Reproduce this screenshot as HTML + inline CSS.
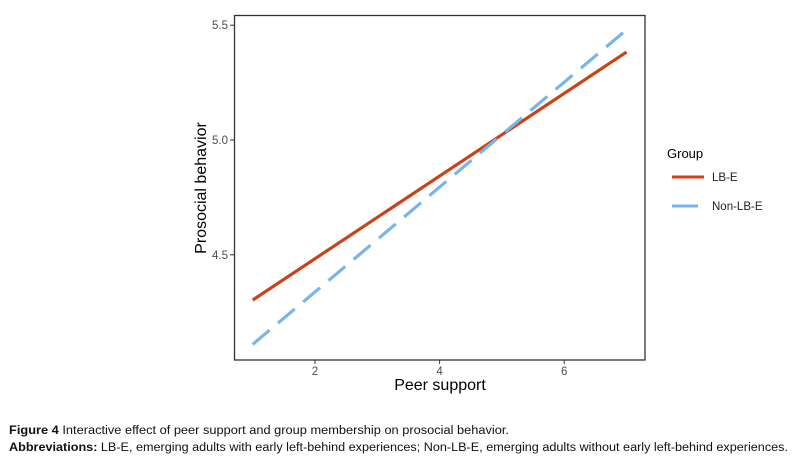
<!DOCTYPE html>
<html><head><meta charset="utf-8"><style>
html,body{margin:0;padding:0;background:#fff;}
svg{display:block;font-family:"Liberation Sans",sans-serif;}
</style></head><body>
<svg id="chart" width="798" height="465">
  <rect x="234.5" y="15.5" width="410.5" height="344.5" fill="none" stroke="#333" stroke-width="1.3"/>
  <g id="xticks"></g>
  <g id="yticks"></g>
  <g id="lines"></g>
  <text x="440" y="390" text-anchor="middle" font-size="16" fill="#000">Peer support</text>
  <text transform="translate(206,188) rotate(-90)" text-anchor="middle" font-size="16" fill="#000">Prosocial behavior</text>
  <g>
    <text x="667" y="158" font-size="13" fill="#000">Group</text>
    <g>
      <line x1="672" y1="177" x2="704" y2="177" stroke="#cc4218" stroke-width="3"/>
      <text x="712" y="181" font-size="11.5" fill="#222">LB-E</text>
    </g>
    <g>
      <line x1="672" y1="206" x2="698" y2="206" stroke="#7ab5ea" stroke-width="3"/>
      <text x="712" y="210" font-size="11.5" fill="#222">Non-LB-E</text>
    </g>
  </g>
  <text x="9" y="434" font-size="11.5" fill="#111" textLength="500" lengthAdjust="spacingAndGlyphs"><tspan font-weight="bold">Figure 4</tspan> Interactive effect of peer support and group membership on prosocial behavior.</text>
  <text x="9" y="451" font-size="11.5" fill="#111" textLength="779" lengthAdjust="spacingAndGlyphs"><tspan font-weight="bold">Abbreviations:</tspan> LB-E, emerging adults with early left-behind experiences; Non-LB-E, emerging adults without early left-behind experiences.</text>
</svg>
<script>
const xDomain = [1, 7];
const xTicks = [2, 4, 6];
const yTicks = [4.5, 5.0, 5.5];
const yTickLabels = ["4.5", "5.0", "5.5"];
const lbeValues = [4.303, 5.383];
const nonLbeValues = [4.11, 5.48];

const NS = "http://www.w3.org/2000/svg";
function xs(v){ return 315 + (v - 2) * 62.3; }
function ys(v){ return 140 - (v - 5) * 229.6; }
function mk(tag, attrs, parent){
  const e = document.createElementNS(NS, tag);
  for (const k in attrs) e.setAttribute(k, attrs[k]);
  parent.appendChild(e);
  return e;
}
const gx = document.getElementById("xticks");
xTicks.forEach(t => {
  const l = mk("line", {x1: xs(t), x2: xs(t), y1: 360, y2: 364, stroke: "#333", "stroke-width": 1}, gx);
  
  
  const tx = mk("text", {x: xs(t), y: 375, "text-anchor": "middle", "font-size": 11.5, fill: "#4d4d4d"}, gx);
  tx.textContent = String(t);
  
  
});
const gy = document.getElementById("yticks");
yTicks.forEach((t, i) => {
  const l = mk("line", {x1: 230, x2: 234.5, y1: ys(t), y2: ys(t), stroke: "#333", "stroke-width": 1}, gy);
  
  
  const tx = mk("text", {x: 228, y: ys(t) + 4, "text-anchor": "end", "font-size": 11.5, fill: "#4d4d4d"}, gy);
  tx.textContent = yTickLabels[i];
  
  
});
const gl = document.getElementById("lines");
const l1 = mk("line", {x1: xs(xDomain[0]), y1: ys(lbeValues[0]), x2: xs(xDomain[1]), y2: ys(lbeValues[1]), stroke: "#cc4218", "stroke-width": 3.2}, gl);


const l2 = mk("line", {x1: xs(xDomain[0]), y1: ys(nonLbeValues[0]), x2: xs(xDomain[1]), y2: ys(nonLbeValues[1]), stroke: "#7ab5ea", "stroke-width": 3.2, "stroke-dasharray": "22 11"}, gl);


</script>
</body></html>
